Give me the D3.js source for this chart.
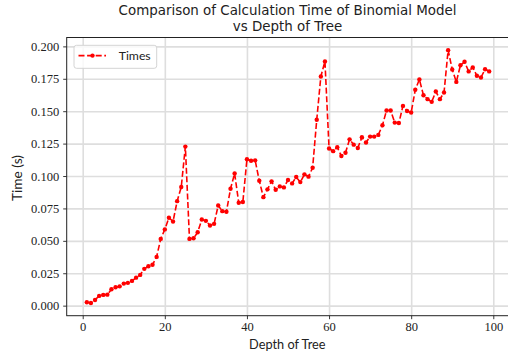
<!DOCTYPE html>
<html>
<head>
<meta charset="utf-8">
<script src="https://cdn.jsdelivr.net/npm/d3@7"></script>
<style>
  body { margin: 0; background: #fff; }
  .tick text { font-family: "Liberation Serif", serif; fill: #222; }
  .lbl { font-family: "Lato", "DejaVu Sans", sans-serif; fill: #222; }
  .ttl { font-family: "DejaVu Sans", sans-serif; fill: #222; }
</style>
</head>
<body>
<svg width="508" height="358"></svg>
<script>
var depth = [1, 2, 3, 4, 5, 6, 7, 8, 9, 10, 11, 12, 13, 14, 15, 16, 17, 18, 19, 20,
    21, 22, 23, 24, 25, 26, 27, 28, 29, 30, 31, 32, 33, 34, 35, 36, 37, 38, 39, 40,
    41, 42, 43, 44, 45, 46, 47, 48, 49, 50, 51, 52, 53, 54, 55, 56, 57, 58, 59, 60,
    61, 62, 63, 64, 65, 66, 67, 68, 69, 70, 71, 72, 73, 74, 75, 76, 77, 78, 79, 80,
    81, 82, 83, 84, 85, 86, 87, 88, 89, 90, 91, 92, 93, 94, 95, 96, 97, 98, 99];

var times = [0.0026, 0.0020, 0.0044, 0.0075, 0.0083, 0.0085, 0.0126, 0.0142, 0.0149, 0.0170,
    0.0176, 0.0191, 0.0216, 0.0237, 0.0284, 0.0304, 0.0315, 0.0376, 0.0515, 0.0588,
    0.0678, 0.0649, 0.0806, 0.0915, 0.1227, 0.0515, 0.0520, 0.0566, 0.0664, 0.0654,
    0.0618, 0.0631, 0.0773, 0.0729, 0.0724, 0.0902, 0.1020, 0.0794, 0.0799, 0.1129,
    0.1118, 0.1121, 0.0964, 0.0837, 0.0897, 0.0959, 0.0894, 0.0920, 0.0912, 0.0969,
    0.0943, 0.0992, 0.0953, 0.1013, 0.0995, 0.1064, 0.1434, 0.1768, 0.1884, 0.1212,
    0.1192, 0.1222, 0.1154, 0.1180, 0.1283, 0.1242, 0.1216, 0.1299, 0.1258, 0.1304,
    0.1304, 0.1317, 0.1392, 0.1505, 0.1505, 0.1412, 0.1409, 0.1541, 0.1502, 0.1490,
    0.1665, 0.1745, 0.1623, 0.1593, 0.1572, 0.1652, 0.1593, 0.1644, 0.1971, 0.1822,
    0.1726, 0.1855, 0.1881, 0.1807, 0.1838, 0.1773, 0.1760, 0.1824, 0.1807];

var xTicks = [0, 20, 40, 60, 80, 100];
var yTicks = [0, 0.025, 0.05, 0.075, 0.1, 0.125, 0.15, 0.175, 0.2];
var titleLines = ["Comparison of Calculation Time of Binomial Model", "vs Depth of Tree"];
//The data

var svg = d3.select("svg"),
    plot = {left: 66.7, right: 509.3, top: 37.5, bottom: 315.7};

var data = depth.map(function (d, i) {
    return {depth: d, time: times[i]};
});

function padded(ext) {
    var p = (ext[1] - ext[0]) * 0.05;
    return [ext[0] - p, ext[1] + p];
}
//matplotlib style 5% margins

var x = d3.scaleLinear().domain(padded(d3.extent(depth))).range([plot.left, plot.right]),
    y = d3.scaleLinear().domain(padded(d3.extent(times))).range([plot.bottom, plot.top]);

// grid
svg.append("g")
    .attr("transform", "translate(0," + plot.bottom + ")")
    .call(d3.axisBottom(x).tickValues(xTicks).tickSize(-(plot.bottom - plot.top)).tickFormat(""))
    .call(function (g) { g.select(".domain").remove(); })
    .selectAll("line").attr("stroke", "#dedede").attr("stroke-width", 1.6);

svg.append("g")
    .attr("transform", "translate(" + plot.left + ",0)")
    .call(d3.axisLeft(y).tickValues(yTicks).tickSize(-(plot.right - plot.left)).tickFormat(""))
    .call(function (g) { g.select(".domain").remove(); })
    .selectAll("line").attr("stroke", "#dedede").attr("stroke-width", 1.6);

// the series
var line = d3.line()
    .x(function (d) { return x(d.depth); })
    .y(function (d) { return y(d.time); });

svg.append("path")
    .datum(data)
    .attr("fill", "none")
    .attr("stroke", "#ff0000")
    .attr("stroke-width", 1.6)
    .attr("stroke-dasharray", "6,2.6")
    .attr("d", line);

svg.selectAll(".dot")
    .data(data)
    .enter().append("circle")
    .attr("class", "dot")
    .attr("cx", function (d) { return x(d.depth); })
    .attr("cy", function (d) { return y(d.time); })
    .attr("r", 2.2)
    .attr("fill", "#ff0000");

// axes
var xAxis = svg.append("g")
    .attr("transform", "translate(0," + plot.bottom + ")")
    .call(d3.axisBottom(x).tickValues(xTicks).tickSize(3.5).tickPadding(3).tickFormat(d3.format("d")));

var yAxis = svg.append("g")
    .attr("transform", "translate(" + plot.left + ",0)")
    .call(d3.axisLeft(y).tickValues(yTicks).tickSize(3.5).tickPadding(4).tickFormat(d3.format(".3f")));

[xAxis, yAxis].forEach(function (g) {
    g.select(".domain").remove();
    g.selectAll(".tick line").attr("stroke", "#222").attr("stroke-width", 0.9);
    g.selectAll(".tick text").attr("font-size", 12.5);
});

svg.append("rect")
    .attr("x", plot.left).attr("y", plot.top)
    .attr("width", plot.right - plot.left).attr("height", plot.bottom - plot.top)
    .attr("fill", "none").attr("stroke", "#222").attr("stroke-width", 1);

// text, sized to the widths in the picture
function fitText(sel, w) {
    var size = 12;
    sel.attr("font-size", size);
    var len = sel.node().getComputedTextLength();
    sel.attr("font-size", size * w / len);
    return sel;
}

// two-line title, both lines the same size
var title = svg.append("text").attr("class", "ttl")
    .attr("text-anchor", "middle")
    .attr("font-size", 12);

title.selectAll("tspan")
    .data(titleLines)
    .enter().append("tspan")
    .attr("x", 287.5)
    .attr("y", function (d, i) { return i === 0 ? 15.3 : 31; })
    .text(function (d) { return d; });

var firstLen = title.select("tspan").node().getComputedTextLength();
title.attr("font-size", 12 * 338 / firstLen);

fitText(svg.append("text").attr("class", "lbl")
    .attr("x", 287.3).attr("y", 348.5).attr("text-anchor", "middle")
    .text("Depth of Tree"), 76.5);

fitText(svg.append("text").attr("class", "lbl")
    .attr("transform", "translate(21.5,178) rotate(-90)")
    .attr("text-anchor", "middle")
    .text("Time (s)"), 46);

// legend
var legend = svg.append("g");

legend.append("rect")
    .attr("x", 74).attr("y", 45.3).attr("width", 82.7).attr("height", 23)
    .attr("rx", 2.5)
    .attr("fill", "#fff").attr("fill-opacity", 0.8)
    .attr("stroke", "#d4d4d4").attr("stroke-width", 1);

legend.append("line")
    .attr("x1", 78.5).attr("x2", 106).attr("y1", 55.6).attr("y2", 55.6)
    .attr("stroke", "#ff0000").attr("stroke-width", 1.6)
    .attr("stroke-dasharray", "6,2.6");

legend.append("circle")
    .attr("cx", 92.5).attr("cy", 55.6).attr("r", 2.2).attr("fill", "#ff0000");

fitText(legend.append("text").attr("class", "lbl")
    .attr("x", 118.7).attr("y", 60.2)
    .text("Times"), 32);
</script>
</body>
</html>
